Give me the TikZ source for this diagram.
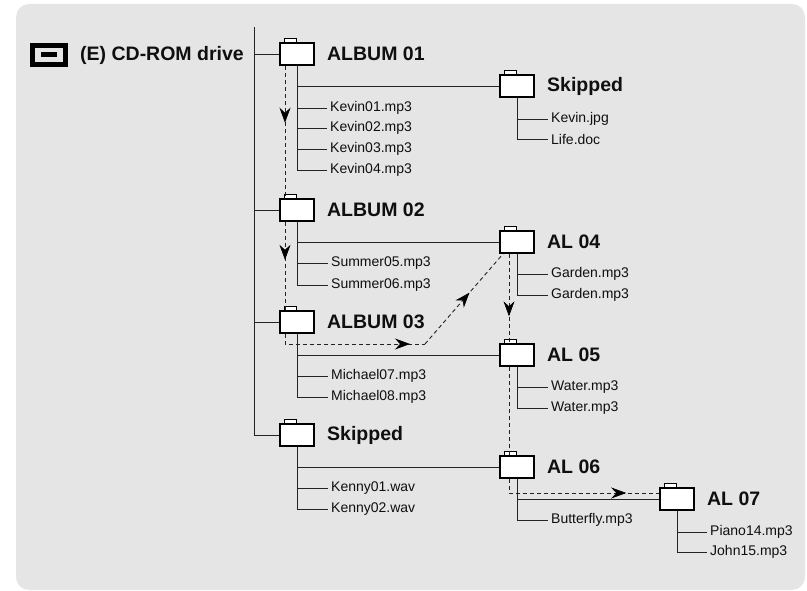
\documentclass[tikz,border=0pt]{standalone}
\usepackage{fontspec}
\setmainfont{Liberation Sans}
\usetikzlibrary{arrows.meta,decorations.markings}
\definecolor{bg}{RGB}{229,229,229}
\definecolor{ln}{RGB}{35,35,35}
\definecolor{tx}{RGB}{15,15,15}
\tikzset{
  folder/.style={draw=black,fill=white,line width=1.9pt,minimum width=34pt,minimum height=22pt,inner sep=0pt},
  tabbox/.style={draw=black,fill=white,line width=1pt},
  lbl/.style={anchor=west,inner sep=0pt,text=tx,font=\fontsize{19.5}{21}\selectfont\bfseries},
  file/.style={anchor=west,inner xsep=3pt,inner ysep=0pt,text=tx,font=\fontsize{14}{16}\selectfont},
  tree/.style={draw=ln,line width=0.9pt},
  dpath/.style={draw=ln,line width=0.9pt,dash pattern=on 4pt off 3pt},
  arrowat/.style={postaction={decorate,decoration={markings,mark=at position #1 with {\arrow[black,line width=0.6pt]{Stealth[length=15pt,width=11pt,inset=5pt]}}}}}
}
\newcommand\mkfolder[4]{%
  \node[folder] (#1) at (#2,#3) {};
  \draw[tabbox] ([xshift=5.5pt]#1.north west) rectangle ++(11.5,-3.5);
  \node[lbl] (#1l) at ([xshift=12pt]#1.east) {#4};
}
\begin{document}
\begin{tikzpicture}[x=1pt,y=-1pt]
\useasboundingbox (0,0) rectangle (807,591);
\fill[bg,rounded corners=13pt] (16,4) rectangle (805,590);

% drive
\node[draw=black,line width=5pt,minimum width=33pt,minimum height=19pt,inner sep=0pt] (drive) at (49,55) {};
\node[fill=black,minimum width=16pt,minimum height=5pt,inner sep=0pt] (drivebar) at (drive.center) {};
\node[lbl] (drivel) at (80,55) {(E) CD-ROM drive};

% folders
\mkfolder{a1}{297}{54}{ALBUM 01}
\mkfolder{s1}{517}{86}{Skipped}
\mkfolder{a2}{297}{210}{ALBUM 02}
\mkfolder{al4}{517}{242}{AL 04}
\mkfolder{a3}{297}{322}{ALBUM 03}
\mkfolder{al5}{517}{355}{AL 05}
\mkfolder{s2}{297}{435}{Skipped}
\mkfolder{al6}{517}{467}{AL 06}
\mkfolder{al7}{677}{499}{AL 07}

% files
\node[file] (k1) at (327,108) {Kevin01.mp3};
\node[file] (k2) at (327,128) {Kevin02.mp3};
\node[file] (k3) at (327,149) {Kevin03.mp3};
\node[file] (k4) at (327,170) {Kevin04.mp3};
\node[file] (kj) at (548,119) {Kevin.jpg};
\node[file] (ld) at (548,139) {Life.doc};
\node[file] (su5) at (328,263) {Summer05.mp3};
\node[file] (su6) at (328,285) {Summer06.mp3};
\node[file] (g1) at (548,274) {Garden.mp3};
\node[file] (g2) at (548,295) {Garden.mp3};
\node[file] (m7) at (328,376) {Michael07.mp3};
\node[file] (m8) at (328,397) {Michael08.mp3};
\node[file] (w1) at (548,387) {Water.mp3};
\node[file] (w2) at (548,408) {Water.mp3};
\node[file] (ke1) at (328,488) {Kenny01.wav};
\node[file] (ke2) at (328,509) {Kenny02.wav};
\node[file] (bf) at (548,520) {Butterfly.mp3};
\node[file] (p14) at (707,532) {Piano14.mp3};
\node[file] (j15) at (707,552) {John15.mp3};

% main trunk
\coordinate (top) at (254,27);
\draw[tree] (top) -- (top |- s2.west) -- (s2.west);
\foreach \f in {a1,a2,a3} \draw[tree] (top |- \f.west) -- (\f.west);

% subtrees
\draw[tree] (a1.south) -- (a1.south |- k4.west);
\draw[tree] (a1.south |- s1.west) -- (s1.west);
\foreach \f in {k1,k2,k3,k4} \draw[tree] (a1.south |- \f.west) -- (\f.west);

\draw[tree] (s1.south) -- (s1.south |- ld.west);
\foreach \f in {kj,ld} \draw[tree] (s1.south |- \f.west) -- (\f.west);

\draw[tree] (a2.south) -- (a2.south |- su6.west);
\draw[tree] (a2.south |- al4.west) -- (al4.west);
\foreach \f in {su5,su6} \draw[tree] (a2.south |- \f.west) -- (\f.west);

\draw[tree] (al4.south) -- (al4.south |- g2.west);
\foreach \f in {g1,g2} \draw[tree] (al4.south |- \f.west) -- (\f.west);

\draw[tree] (a3.south) -- (a3.south |- m8.west);
\draw[tree] (a3.south |- al5.west) -- (al5.west);
\foreach \f in {m7,m8} \draw[tree] (a3.south |- \f.west) -- (\f.west);

\draw[tree] (al5.south) -- (al5.south |- w2.west);
\foreach \f in {w1,w2} \draw[tree] (al5.south |- \f.west) -- (\f.west);

\draw[tree] (s2.south) -- (s2.south |- ke2.west);
\draw[tree] (s2.south |- al6.west) -- (al6.west);
\foreach \f in {ke1,ke2} \draw[tree] (s2.south |- \f.west) -- (\f.west);

\draw[tree] (al6.south) -- (al6.south |- bf.west);
\draw[tree] (al6.south |- al7.west) -- (al7.west);
\draw[tree] (al6.south |- bf.west) -- (bf.west);

\draw[tree] (al7.south) -- (al7.south |- j15.west);
\foreach \f in {p14,j15} \draw[tree] (al7.south |- \f.west) -- (\f.west);

% dashed playback order
\draw[dpath,arrowat=0.43] ([xshift=-12pt]a1.south) -- ([xshift=-12pt]a2.north);
\draw[dpath,arrowat=0.43] ([xshift=-12pt]a2.south) -- ([xshift=-12pt]a3.north);
\coordinate (bend3) at (425,344);
\draw[dpath,arrowat=0.9] ([xshift=-12pt]a3.south) |- (bend3);
\draw[dpath,arrowat=0.57] (bend3) -- ([xshift=-14pt]al4.south);
\draw[dpath,arrowat=0.7] ([xshift=-8pt]al4.south) -- ([xshift=-8pt]al5.north);
\draw[dpath] ([xshift=-8pt]al5.south) -- ([xshift=-8pt]al6.north);
\draw[dpath,arrowat=0.8] ([xshift=-8pt]al6.south) |- ([yshift=6pt]al7.west);
\end{tikzpicture}
\end{document}
